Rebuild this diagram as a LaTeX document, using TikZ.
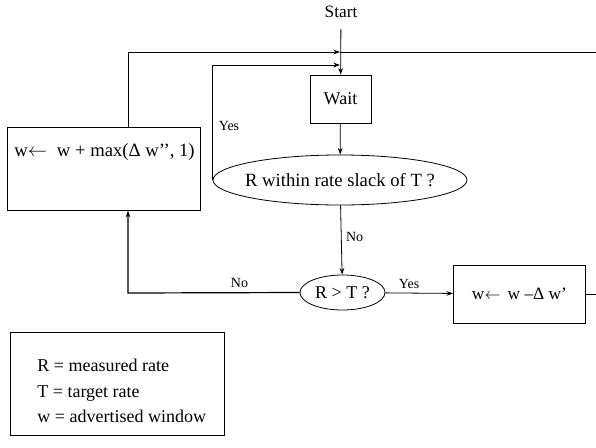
\documentclass[tikz,border=0pt]{standalone}
\usepackage{fontspec}
\setmainfont{Liberation Serif}
\usetikzlibrary{shapes.geometric,arrows.meta}
\tikzset{
  box/.style={draw, rectangle, inner sep=0pt},
  oval/.style={draw, ellipse, inner sep=0pt},
  txt/.style={font=\fontsize{13.5}{16}\selectfont},
  small/.style={font=\fontsize{10.5}{12}\selectfont},
}
\begin{document}
\begin{tikzpicture}[x=0.75pt, y=-0.75pt, line width=0.6pt, >={Stealth[length=5pt, width=3.5pt]}]
   \useasboundingbox (0,0) rectangle (596,447);
   % nodes
   \node[font=\fontsize{13}{15}\selectfont, inner xsep=2pt, inner ysep=8pt] (start) at (341,12) {Start};
   \node[box, txt, minimum width=45.75pt, minimum height=36pt] (wait) at (340.5,99) {Wait};
   \node[oval, font=\fontsize{14}{16}\selectfont, minimum width=190.5pt, minimum height=37.5pt] (slack) at (340,180) {\makebox[0pt]{R within rate slack of T ?}};
   \node[oval, txt, minimum width=63.75pt, minimum height=26.25pt] (cmp) at (342.5,292.5) {\makebox[0pt]{R > T ?}};
   \node[box, minimum width=144.75pt, minimum height=62pt] (inc) at (103.5,169) {};
   \node[font=\fontsize{14}{16}\selectfont, anchor=west, inner sep=0pt] (inctext) at (14,152) {w$\leftarrow$\; w + max(Δ w’’, 1)};
   \node[box, font=\fontsize{13}{16}\selectfont, minimum width=99pt, minimum height=43.5pt] (dec) at (519.5,294) {w$\leftarrow$\, w –Δ w’};
   \node[box, minimum width=160.5pt, minimum height=77.25pt] (legend) at (117,383.5) {};
   \node[txt, anchor=west, align=left, inner sep=0pt] (legtext) at (37,391) {R = measured rate\\[3pt] T = target rate\\[3pt] w = advertised window};
   % corner points
   \coordinate (jn) at (340,52);
   \coordinate (jy) at (340,65);
   \coordinate (jr) at (596,52);
   \coordinate (lc) at (128,52);
   \coordinate (bc) at (128,293);
   \coordinate (rout) at (596,294);
   % connectors
   \draw[->] (start) -- (wait);
   \draw (jn) -- (jr);
   \draw[->] (inc.north -| lc) -- (lc) -- (jn);
   \draw[->] (slack.west) |- (jy);
   \node[small] (yes1) at (229,126) {Yes};
   \draw[->] (wait) -- (slack);
   \draw[->] (slack) -- node[small, right, pos=0.45] (no1) {No} (cmp);
   \draw[->] (cmp) -- node[small, above, pos=0.35] (yes2) {Yes} (dec);
   \draw[->, line width=0.9pt] (cmp.west) -- node[small, above, pos=0.35] (no2) {No} (bc) -- (inc.south -| bc);
   \draw (dec.east) -- (rout);
\end{tikzpicture}
\end{document}
